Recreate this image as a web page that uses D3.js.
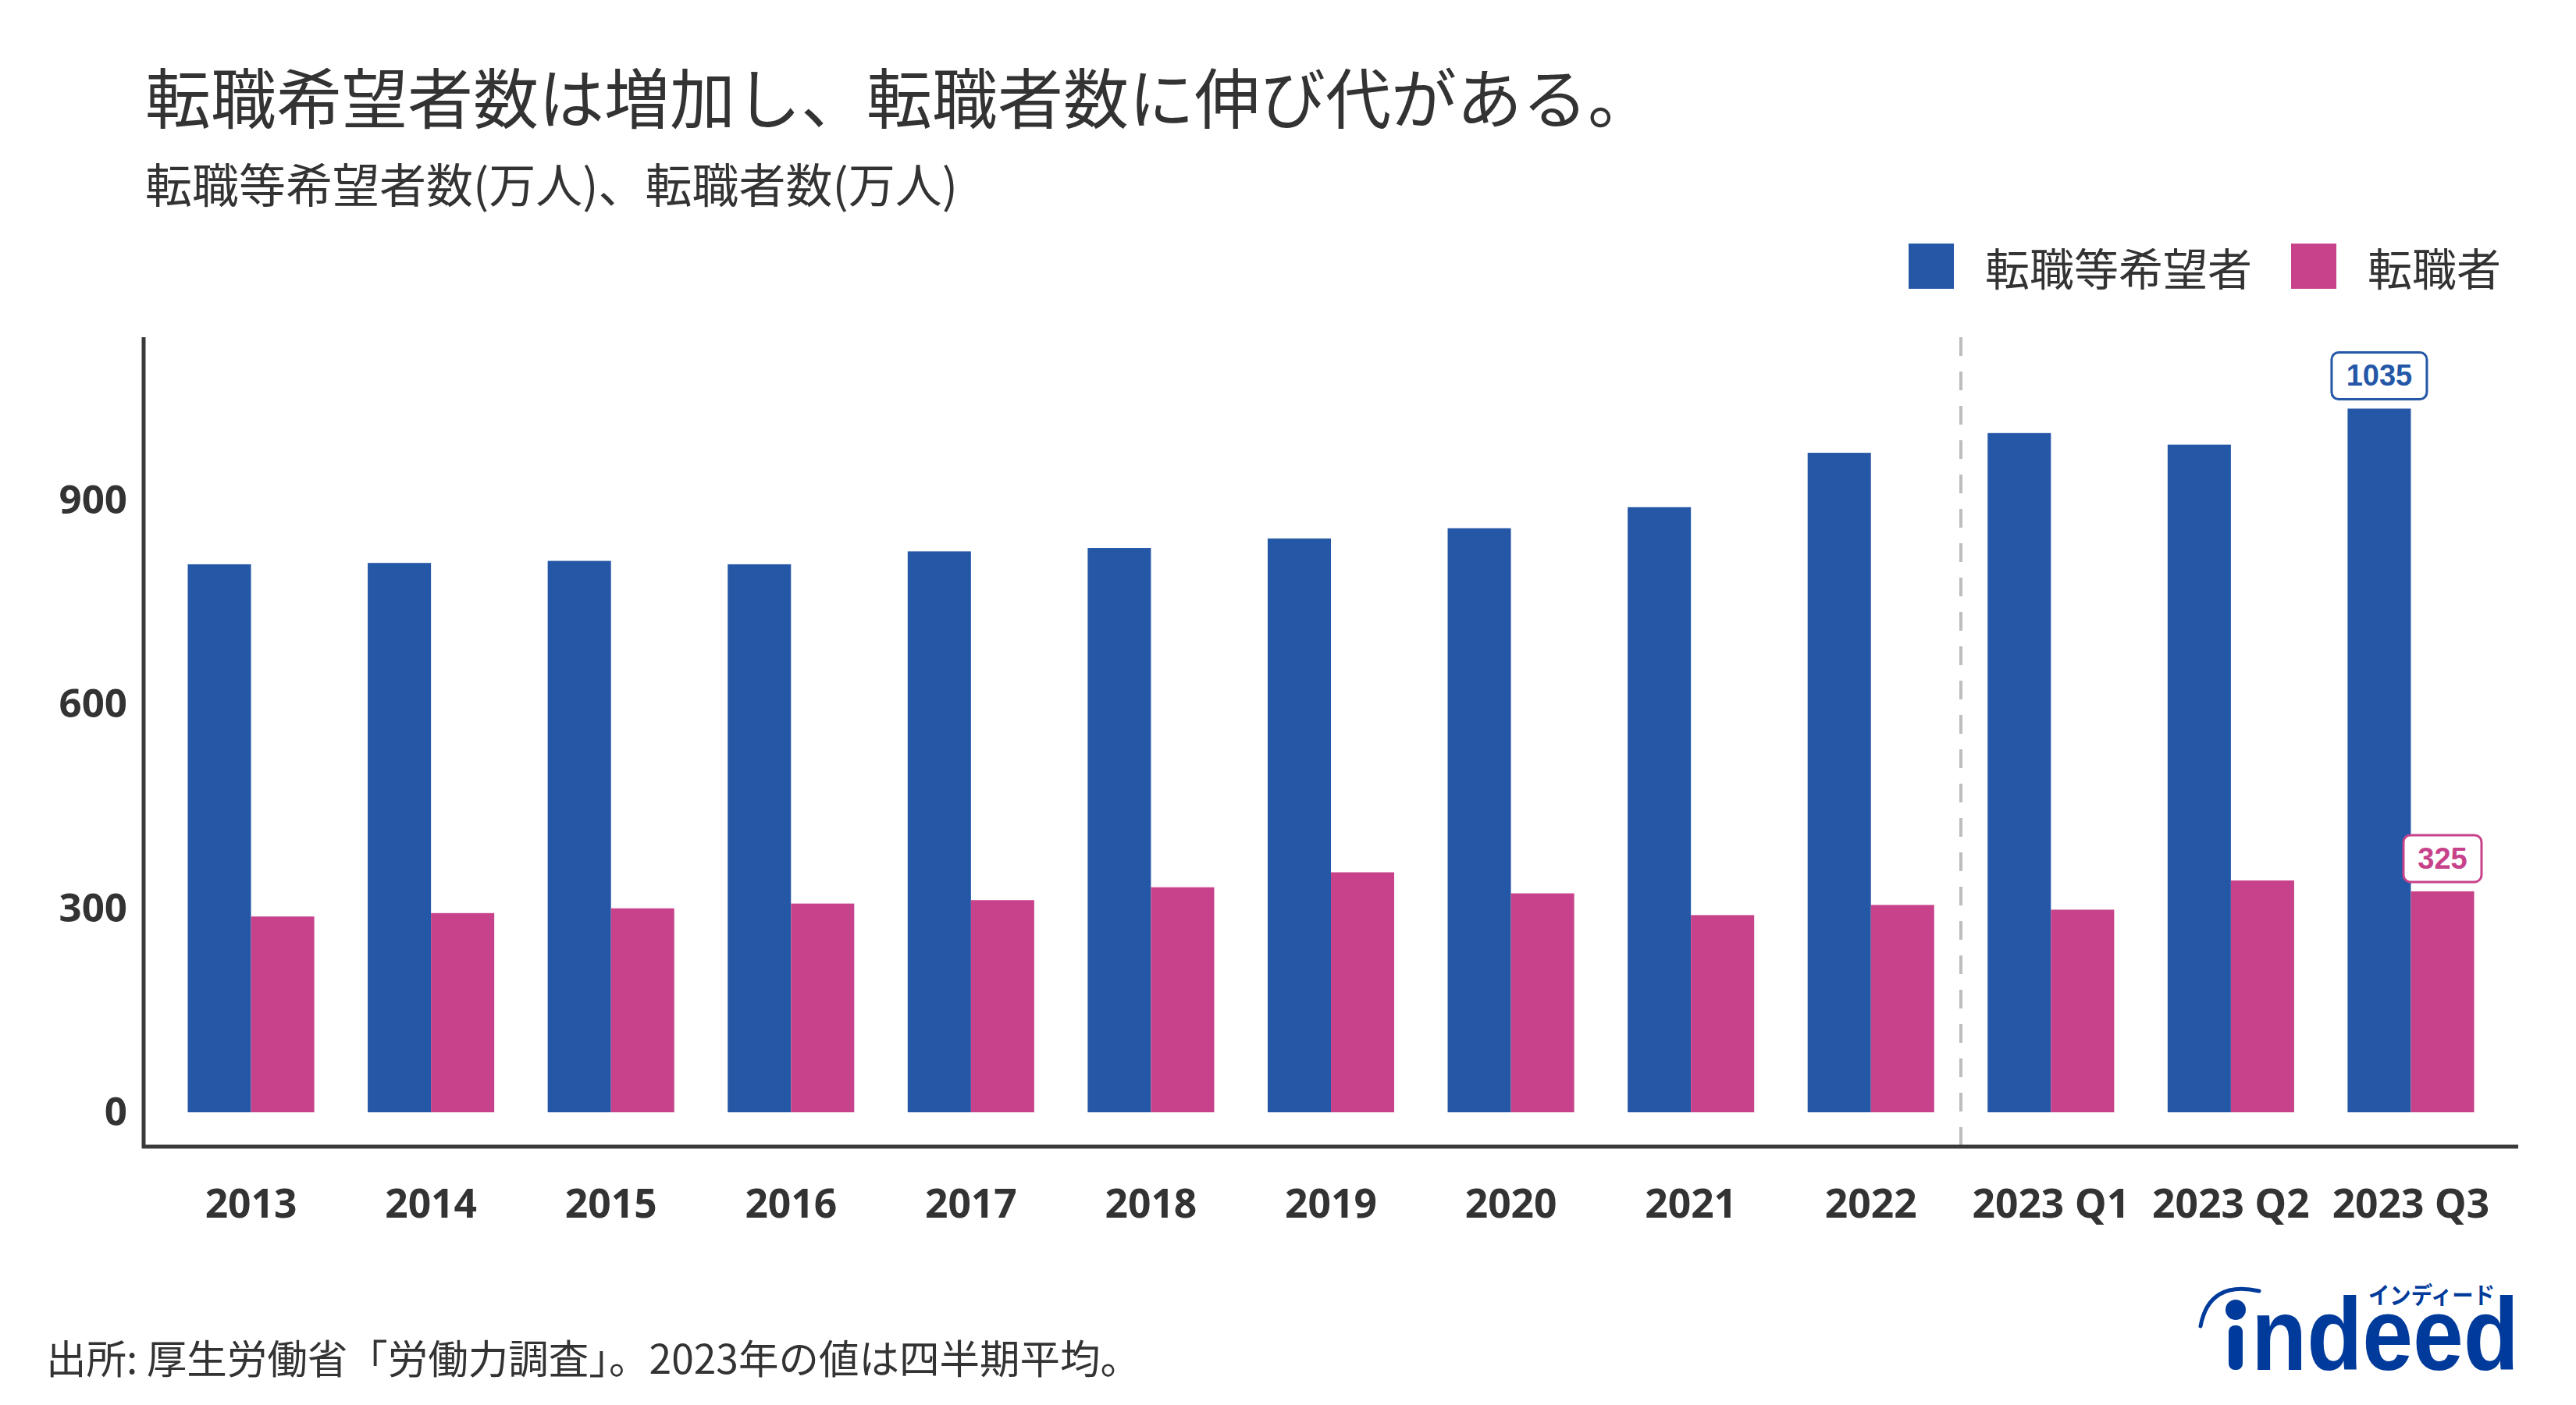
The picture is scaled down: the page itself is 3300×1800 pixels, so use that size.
<!DOCTYPE html>
<html>
<head>
<meta charset="utf-8">
<script src="https://cdn.jsdelivr.net/npm/d3@7"></script>
<style>
  body { margin: 0; background: #fff; }
  svg { display: block; }
</style>
</head>
<body>
<svg id="chart"></svg>
<script>
// data (万人)
const categories = ['2013', '2014', '2015', '2016', '2017', '2018', '2019', '2020', '2021', '2022', '2023 Q1', '2023 Q2', '2023 Q3'];
const seriesNames = ['転職等希望者', '転職者'];
const hopefulValues = [806, 808, 811, 806, 825, 830, 844, 859, 890, 970, 999, 982, 1035];
const changerValues = [288, 293, 300, 307, 312, 331, 353, 322, 290, 305, 298, 341, 325];
const yTicks = [0, 300, 600, 900];
const dividerAfter = '2022';

const W = 3300, H = 1800;
const colors = ['#2557a7', '#c7428a'];
const textDark = '#333333';
const cjk = '"Noto Sans CJK JP", "Noto Sans", sans-serif';
const latin = '"Open Sans", "Noto Sans", sans-serif';

const svg = d3.select('#chart')
    .attr('width', W)
    .attr('height', H);

const plot = {left: 184, right: 3226, top: 432, bottom: 1469};

const table = categories.map((c, i) => ({
  category: c,
  values: [hopefulValues[i], changerValues[i]]
}));

// scales
const x0 = d3.scaleBand()
    .domain(categories)
    .range([plot.left, plot.right])
    .paddingInner(0.297)
    .paddingOuter(0.245);

const x1 = d3.scaleBand()
    .domain([0, 1])
    .range([0, x0.bandwidth()]);

const y = d3.scaleLinear()
    .domain([-50.5, 1140])
    .range([plot.bottom, plot.top]);

// title block
svg.append('text')
    .attr('x', 186)
    .attr('y', 158)
    .attr('fill', textDark)
    .style('font-family', cjk)
    .style('font-size', '84px')
    .text('転職希望者数は増加し、転職者数に伸び代がある。');

svg.append('text')
    .attr('x', 186)
    .attr('y', 260)
    .attr('fill', textDark)
    .style('font-family', cjk)
    .style('font-size', '60px')
    .text('転職等希望者数(万人)、転職者数(万人)');

// legend
const legendX = [2445, 2935];
const legend = svg.append('g');
seriesNames.forEach((name, i) => {
  legend.append('rect')
      .attr('x', legendX[i])
      .attr('y', 312)
      .attr('width', 58)
      .attr('height', 58)
      .attr('fill', colors[i]);
  legend.append('text')
      .attr('x', legendX[i] + 98)
      .attr('y', 341)
      .attr('dominant-baseline', 'central')
      .attr('fill', textDark)
      .style('font-family', cjk)
      .style('font-size', '57px')
      .text(name);
});

// divider between yearly and quarterly values
const divX = x0(dividerAfter) + x0.bandwidth() + x0.step() * x0.paddingInner() / 2;
svg.append('line')
    .attr('x1', divX)
    .attr('x2', divX)
    .attr('y1', plot.top)
    .attr('y2', plot.bottom)
    .attr('stroke', '#bdbdbd')
    .attr('stroke-width', 4)
    .attr('stroke-dasharray', '24,20');

// bars
const groups = svg.append('g')
  .selectAll('g')
  .data(table)
  .join('g')
    .attr('transform', d => `translate(${x0(d.category)},0)`);

groups.selectAll('rect')
  .data(d => d.values.map((v, i) => ({i, v})))
  .join('rect')
    .attr('x', d => x1(d.i))
    .attr('y', d => y(d.v))
    .attr('width', x1.bandwidth())
    .attr('height', d => y(0) - y(d.v))
    .attr('fill', d => colors[d.i]);

// axes
const yAxis = d3.axisLeft(y).tickValues(yTicks).tickSize(0).tickPadding(21);
const yAxisG = svg.append('g')
    .attr('transform', `translate(${plot.left},0)`)
    .call(yAxis);
yAxisG.select('.domain').remove();
yAxisG.selectAll('text')
    .attr('fill', textDark)
    .style('font-family', latin)
    .style('font-weight', 700)
    .style('font-size', '51px');

const xAxis = d3.axisBottom(x0).tickSize(0).tickPadding(54);
const xAxisG = svg.append('g')
    .attr('transform', `translate(0,${plot.bottom})`)
    .call(xAxis);
xAxisG.select('.domain').remove();
xAxisG.selectAll('text')
    .attr('fill', textDark)
    .style('font-family', latin)
    .style('font-weight', 700)
    .style('font-size', '51.5px');

svg.append('line')
    .attr('x1', plot.left)
    .attr('x2', plot.left)
    .attr('y1', plot.top)
    .attr('y2', plot.bottom + 2)
    .attr('stroke', '#3a3a3a')
    .attr('stroke-width', 5);
svg.append('line')
    .attr('x1', plot.left - 2)
    .attr('x2', plot.right)
    .attr('y1', plot.bottom)
    .attr('y2', plot.bottom)
    .attr('stroke', '#3a3a3a')
    .attr('stroke-width', 5);

// value callouts on the latest quarter
const last = table[table.length - 1];
last.values.forEach((v, i) => {
  const cx = x0(last.category) + x1(i) + x1.bandwidth() / 2;
  const label = String(v);
  const bw = label.length > 3 ? 122 : 100;
  const bh = 60;
  const by = y(v) - 12 - bh;
  svg.append('rect')
      .attr('x', cx - bw / 2)
      .attr('y', by)
      .attr('width', bw)
      .attr('height', bh)
      .attr('rx', 9)
      .attr('fill', '#fff')
      .attr('stroke', colors[i])
      .attr('stroke-width', 3);
  svg.append('text')
      .attr('x', cx)
      .attr('y', by + bh / 2)
      .attr('text-anchor', 'middle')
      .attr('dominant-baseline', 'central')
      .attr('fill', colors[i])
      .style('font-family', '"Liberation Sans", Arial, sans-serif')
      .style('font-weight', 700)
      .style('font-size', '38px')
      .text(label);
});

// source note
svg.append('text')
    .attr('x', 59)
    .attr('y', 1760)
    .attr('fill', textDark)
    .style('font-family', cjk)
    .style('font-size', '51.5px')
    .text('出所: 厚生労働省「労働力調査」。2023年の値は四半期平均。');

// indeed logo
const logo = svg.append('g').attr('fill', '#003a9b');
logo.append('path')
    .attr('d', 'M2819,1699 Q2830,1640 2894,1654')
    .attr('fill', 'none')
    .attr('stroke', '#003a9b')
    .attr('stroke-width', 5)
    .attr('stroke-linecap', 'round');
logo.append('circle')
    .attr('cx', 2864)
    .attr('cy', 1678)
    .attr('r', 13);
logo.append('rect')
    .attr('x', 2855)
    .attr('y', 1698)
    .attr('width', 18)
    .attr('height', 57)
    .attr('rx', 8);
logo.append('text')
    .attr('x', 2884)
    .attr('y', 1755)
    .attr('textLength', 343)
    .attr('lengthAdjust', 'spacingAndGlyphs')
    .style('font-family', '"Liberation Sans", Arial, sans-serif')
    .style('font-weight', 700)
    .style('font-size', '132px')
    .text('ndeed');
logo.append('text')
    .attr('x', 3034)
    .attr('y', 1670)
    .attr('textLength', 162)
    .attr('lengthAdjust', 'spacingAndGlyphs')
    .style('font-family', cjk)
    .style('font-weight', 700)
    .style('font-size', '30px')
    .text('インディード');
</script>
</body>
</html>
